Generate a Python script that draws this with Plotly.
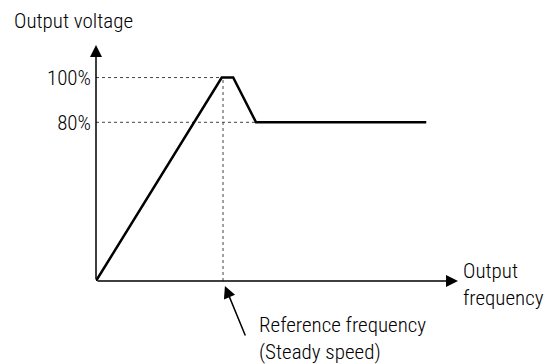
import plotly.graph_objects as go

# schematic V/f curve (x: frequency units, ref freq = 100; y: voltage units, 100% = 100)
freq = [0, 99, 108, 126, 260]
voltage = [0, 100, 100, 78, 78]

level_vals = [100, 78]
level_text = ["100%", "80%"]
level_ends = [99, 126]
ref_freq = 100

x_end = 285
y_end = 116

font = dict(family="Roboto Condensed, Liberation Sans", size=21, color="black", weight=300)
guide = dict(color="#444", width=1, dash="dot")

fig = go.Figure()

# dotted guides
for lv, xe in zip(level_vals, level_ends):
    fig.add_trace(go.Scatter(x=[0, xe], y=[lv, lv], mode="lines", line=guide, hoverinfo="skip"))
fig.add_trace(go.Scatter(x=[ref_freq, ref_freq], y=[0, level_vals[0]], mode="lines",
                         line=guide, hoverinfo="skip"))

# main curve
fig.add_trace(go.Scatter(x=freq, y=voltage, mode="lines",
                         line=dict(color="black", width=2.5), hoverinfo="skip"))

# axis arrows
arrow = dict(showarrow=True, arrowhead=2, arrowsize=1.6, arrowwidth=1.5, arrowcolor="black", text="")
fig.add_annotation(x=x_end, y=0, ax=0, ay=0, xref="x", yref="y", axref="x", ayref="y", **arrow)
fig.add_annotation(x=0, y=y_end, ax=0, ay=0, xref="x", yref="y", axref="x", ayref="y", **arrow)

# reference frequency pointer (tip just under the x axis)
fig.add_annotation(x=ref_freq + 1.5, y=-5 / 236, xref="x", yref="paper", ax=21, ay=51, **arrow)

fig.add_annotation(text="Output voltage", x=-84 / 362, y=1 + (45 - 21) / 236, xref="paper", yref="paper",
                   showarrow=False, font=font, xanchor="left", yanchor="middle")
fig.add_annotation(text="Output<br>frequency", x=(461 - 96) / 362, y=-3 / 236, xref="paper", yref="paper",
                   showarrow=False, font=font, xanchor="left", yanchor="middle", align="left")
fig.add_annotation(text="Reference frequency<br>(Steady speed)", x=(257 - 96) / 362, y=-57 / 236,
                   xref="paper", yref="paper", showarrow=False, font=font,
                   xanchor="left", yanchor="middle", align="left")

fig.update_xaxes(range=[0, x_end], visible=False)
fig.update_yaxes(range=[0, y_end], showgrid=False, zeroline=False, showline=False, automargin=False,
                 tickvals=level_vals, ticktext=level_text, ticks="", tickfont=font, ticklabelstandoff=4)

fig.update_layout(width=550, height=364, margin=dict(l=96, r=92, t=45, b=83),
                  plot_bgcolor="white", paper_bgcolor="white", showlegend=False)

fig.write_html("out.html", config={"displayModeBar": False},
               post_script="document.body.style.margin='0';")
